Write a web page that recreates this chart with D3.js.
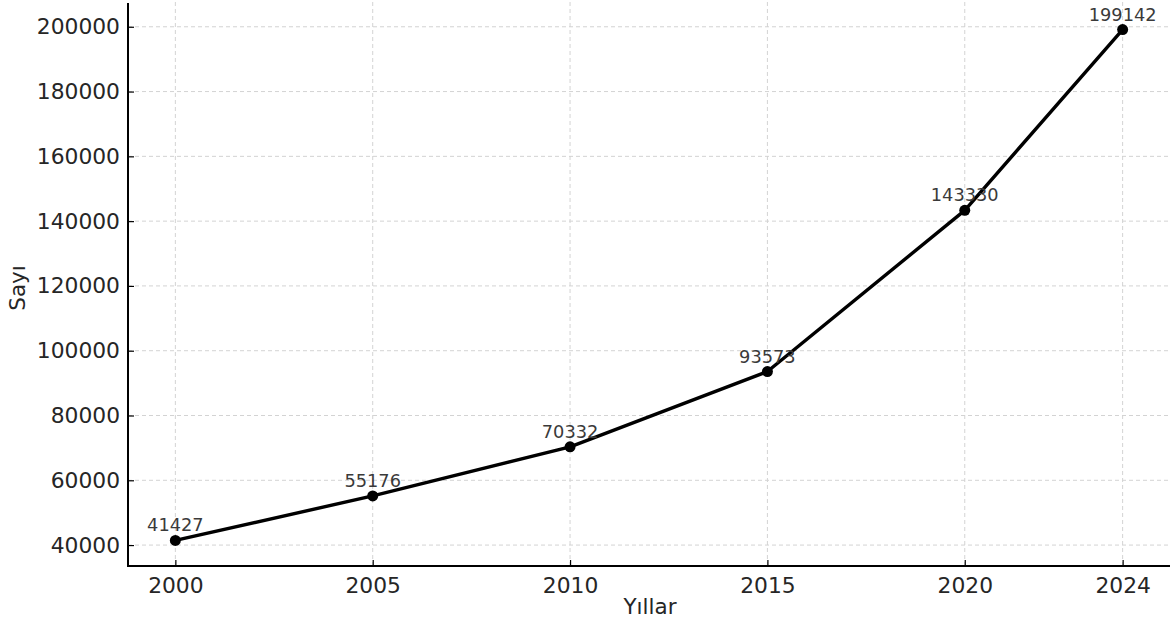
<!DOCTYPE html>
<html>
<head>
<meta charset="utf-8">
<script src="https://cdn.jsdelivr.net/npm/d3@7"></script>
<style>
    body { margin: 0; background: #fff; }
    svg { display: block; font-family: "DejaVu Sans", sans-serif; }
    .grid line { stroke: #d3d3d3; stroke-dasharray: 4,3; stroke-width: 1; }
    .axis text { fill: #262626; font-size: 21.8px; font-family: "DejaVu Sans", sans-serif; }
</style>
</head>
<body>
<div id="chart"></div>
<script>
// data
var years = [2000, 2005, 2010, 2015, 2020, 2024];
var counts = [41427, 55176, 70332, 93573, 143330, 199142];
var yTicks = [40000, 60000, 80000, 100000, 120000, 140000, 160000, 180000, 200000];

var width = 1170, height = 622,
    margin = {top: 4, right: 0, bottom: 56, left: 128},
    tickLen = 6;

var svg = d3.select("#chart").append("svg")
    .attr("width", width)
    .attr("height", height);

// matplotlib style 5% margins
var xPad = (d3.max(years) - d3.min(years)) * 0.05,
    yPad = (d3.max(counts) - d3.min(counts)) * 0.05;

var x = d3.scaleLinear()
    .domain([d3.min(years) - xPad, d3.max(years) + xPad])
    .range([margin.left, width - margin.right]);

var y = d3.scaleLinear()
    .domain([d3.min(counts) - yPad, d3.max(counts) + yPad])
    .range([height - margin.bottom, margin.top]);

var bottom = height - margin.bottom;

// grid
svg.append("g")
    .attr("class", "grid")
    .selectAll("line")
    .data(years)
    .enter().append("line")
    .attr("x1", function (d) { return x(d); })
    .attr("x2", function (d) { return x(d); })
    .attr("y1", bottom)
    .attr("y2", 0);

svg.append("g")
    .attr("class", "grid")
    .selectAll("line")
    .data(yTicks)
    .enter().append("line")
    .attr("x1", margin.left)
    .attr("x2", width)
    .attr("y1", function (d) { return y(d); })
    .attr("y2", function (d) { return y(d); });

// axes, ticks pointing inward
var xAxis = svg.append("g")
    .attr("class", "axis")
    .attr("transform", "translate(0," + bottom + ")")
    .call(d3.axisBottom(x).tickValues(years).tickFormat(d3.format("d"))
        .tickSizeInner(-tickLen).tickSizeOuter(0).tickPadding(12));

var yAxis = svg.append("g")
    .attr("class", "axis")
    .attr("transform", "translate(" + margin.left + ",0)")
    .call(d3.axisLeft(y).tickValues(yTicks).tickFormat(d3.format("d"))
        .tickSizeInner(-tickLen).tickSizeOuter(0).tickPadding(8));

[xAxis, yAxis].forEach(function (a) {
    a.attr("font-family", null).attr("font-size", null);
    a.select(".domain").remove();
    a.selectAll(".tick line").attr("stroke", "#000").attr("stroke-width", 1.2);
});

// spines
svg.append("line")
    .attr("x1", margin.left).attr("x2", margin.left)
    .attr("y1", 3).attr("y2", bottom + 1)
    .attr("stroke", "#000").attr("stroke-width", 2);
svg.append("line")
    .attr("x1", margin.left - 1).attr("x2", width)
    .attr("y1", bottom).attr("y2", bottom)
    .attr("stroke", "#000").attr("stroke-width", 2);

// axis titles
svg.append("text")
    .attr("x", (margin.left + width) / 2 + 1)
    .attr("y", 614)
    .attr("text-anchor", "middle")
    .attr("fill", "#262626")
    .style("font-size", "21.5px")
    .text("Yıllar");

svg.append("text")
    .attr("transform", "translate(25," + 288 + ") rotate(-90)")
    .attr("text-anchor", "middle")
    .attr("fill", "#262626")
    .style("font-size", "21.5px")
    .text("Sayı");

// line + markers
var points = years.map(function (d, i) { return {year: d, value: counts[i]}; });

var line = d3.line()
    .x(function (d) { return x(d.year); })
    .y(function (d) { return y(d.value); });

svg.append("path")
    .datum(points)
    .attr("fill", "none")
    .attr("stroke", "#000")
    .attr("stroke-width", 3.4)
    .attr("stroke-linejoin", "round")
    .attr("d", line);

svg.selectAll("circle.pt")
    .data(points)
    .enter().append("circle")
    .attr("class", "pt")
    .attr("r", 5.5)
    .attr("cx", function (d) { return x(d.year); })
    .attr("cy", function (d) { return y(d.value); })
    .attr("fill", "#000");

svg.selectAll("text.lbl")
    .data(points)
    .enter().append("text")
    .attr("class", "lbl")
    .attr("x", function (d) { return x(d.year); })
    .attr("y", function (d) { return y(d.value) - 9; })
    .attr("text-anchor", "middle")
    .attr("fill", "#3a3a3a")
    .style("font-size", "17.8px")
    .text(function (d) { return d.value; });
</script>
</body>
</html>
